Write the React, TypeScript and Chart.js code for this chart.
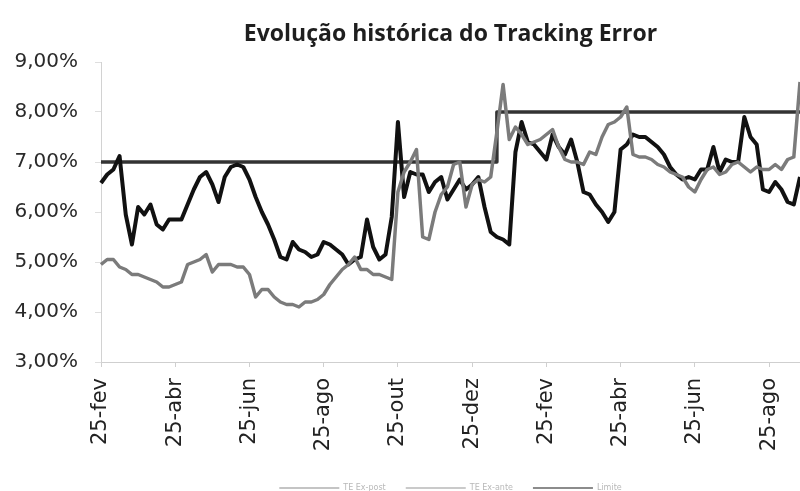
import { useEffect, useRef } from "react";
import { Chart, registerables } from "chart.js";

Chart.register(...registerables);

const TICK_LABELS = ["25-fev", "25-abr", "25-jun", "25-ago", "25-out", "25-dez", "25-fev", "25-abr", "25-jun", "25-ago"];
const POINTS_PER_TICK = 12;
const SERIES_NAMES = ["TE Ex-post", "TE Ex-ante", "Limite"];

const TE_GRAY = [
  4.95, 5.05, 5.05, 4.9, 4.85, 4.75, 4.75, 4.7, 4.65, 4.6,
  4.5, 4.5, 4.55, 4.6, 4.95, 5.0, 5.05, 5.15, 4.8, 4.95,
  4.95, 4.95, 4.9, 4.9, 4.75, 4.3, 4.45, 4.45, 4.3, 4.2,
  4.15, 4.15, 4.1, 4.2, 4.2, 4.25, 4.35, 4.55, 4.7, 4.85,
  4.95, 5.1, 4.85, 4.85, 4.75, 4.75, 4.7, 4.65, 6.4, 6.8,
  7.0, 7.25, 5.5, 5.45, 6.0, 6.35, 6.5, 6.95, 7.0, 6.1,
  6.55, 6.65, 6.6, 6.7, 7.6, 8.55, 7.45, 7.7, 7.55, 7.35,
  7.4, 7.45, 7.55, 7.65, 7.3, 7.05, 7.0, 7.0, 6.95, 7.2,
  7.15, 7.5, 7.75, 7.8, 7.9, 8.1, 7.15, 7.1, 7.1, 7.05,
  6.95, 6.9, 6.8, 6.75, 6.7, 6.5, 6.4, 6.65, 6.85, 6.9,
  6.75, 6.8, 6.95, 7.0, 6.9, 6.8, 6.9, 6.85, 6.85, 6.95,
  6.85, 7.05, 7.1, 8.6,
];

const TE_BLACK = [
  6.58, 6.75, 6.85, 7.12, 5.95, 5.35, 6.1, 5.95, 6.15, 5.75,
  5.65, 5.85, 5.85, 5.85, 6.15, 6.45, 6.7, 6.8, 6.55, 6.2,
  6.7, 6.9, 6.95, 6.9, 6.65, 6.3, 6.0, 5.75, 5.45, 5.1,
  5.05, 5.4, 5.25, 5.2, 5.1, 5.15, 5.4, 5.35, 5.25, 5.15,
  4.95, 5.05, 5.1, 5.85, 5.3, 5.05, 5.15, 5.9, 7.8, 6.3,
  6.8, 6.75, 6.75, 6.4, 6.6, 6.7, 6.25, 6.45, 6.65, 6.45,
  6.55, 6.7, 6.1, 5.6, 5.5, 5.45, 5.35, 7.2, 7.8, 7.4,
  7.35, 7.2, 7.05, 7.55, 7.3, 7.15, 7.45, 7.0, 6.4, 6.35,
  6.15, 6.0, 5.8, 6.0, 7.25, 7.35, 7.55, 7.5, 7.5, 7.4,
  7.3, 7.15, 6.9, 6.75, 6.65, 6.7, 6.65, 6.85, 6.85, 7.3,
  6.8, 7.05, 7.0, 7.0, 7.9, 7.5, 7.35, 6.45, 6.4, 6.6,
  6.45, 6.2, 6.15, 6.7,
];

const TE_LIMIT = [
  7, 7, 7, 7, 7, 7, 7, 7, 7, 7,
  7, 7, 7, 7, 7, 7, 7, 7, 7, 7,
  7, 7, 7, 7, 7, 7, 7, 7, 7, 7,
  7, 7, 7, 7, 7, 7, 7, 7, 7, 7,
  7, 7, 7, 7, 7, 7, 7, 7, 7, 7,
  7, 7, 7, 7, 7, 7, 7, 7, 7, 7,
  7, 7, 7, 7, 8, 8, 8, 8, 8, 8,
  8, 8, 8, 8, 8, 8, 8, 8, 8, 8,
  8, 8, 8, 8, 8, 8, 8, 8, 8, 8,
  8, 8, 8, 8, 8, 8, 8, 8, 8, 8,
  8, 8, 8, 8, 8, 8, 8, 8, 8, 8,
  8, 8, 8, 8,
];

const Y_MIN = 3;
const Y_MAX = 9;

const CATEGORIES = TE_BLACK.map((_, i) =>
  i % POINTS_PER_TICK === 0 && TICK_LABELS[i / POINTS_PER_TICK] ? TICK_LABELS[i / POINTS_PER_TICK] : ""
);

const LEGEND_LINE_COLORS = ["#c4c4c4", "#cacaca", "#8c8c8c"];

export default function App() {
  const ref = useRef<HTMLCanvasElement | null>(null);

  useEffect(() => {
    if (!ref.current) return;
    const chart = new Chart(ref.current, {
      type: "line",
      data: {
        labels: CATEGORIES,
        datasets: [
          { label: SERIES_NAMES[0], data: TE_GRAY, borderColor: "#7b7b7b", backgroundColor: "#7b7b7b", borderWidth: 3.5, order: 0 },
          { label: SERIES_NAMES[1], data: TE_BLACK, borderColor: "#111111", backgroundColor: "#111111", borderWidth: 4, order: 1 },
          { label: SERIES_NAMES[2], data: TE_LIMIT, borderColor: "#333333", backgroundColor: "#333333", borderWidth: 3.5, stepped: "before", order: 2 },
        ],
      },
      options: {
        animation: false,
        responsive: false,
        layout: { padding: 0 },
        elements: {
          point: { radius: 0, hoverRadius: 0 },
          line: { tension: 0, borderJoinStyle: "round", borderCapStyle: "butt" },
        },
        plugins: {
          tooltip: { enabled: false },
          title: {
            display: true,
            text: "Evolução histórica do Tracking Error",
            fullSize: false,
            color: "#1e1e1e",
            font: { family: "Open Sans", size: 23, weight: "bold" },
            padding: { top: 21, bottom: 13.4 },
          },
          legend: {
            position: "bottom",
            fullSize: false,
            labels: {
              usePointStyle: true,
              pointStyle: "line",
              pointStyleWidth: 60,
              boxHeight: 4,
              padding: 20,
              color: "#b8b8b8",
              font: { family: "DejaVu Sans", size: 8 },
              generateLabels: (c: any) => {
                const base = (Chart.defaults.plugins.legend.labels as any).generateLabels(c);
                return base.map((it: any, k: number) => ({
                  ...it,
                  strokeStyle: LEGEND_LINE_COLORS[k],
                  fillStyle: LEGEND_LINE_COLORS[k],
                  lineWidth: 2,
                  fontColor: "#b8b8b8",
                }));
              },
            },
          },
        },
        scales: {
          x: {
            type: "category",
            offset: false,
            grid: { drawOnChartArea: false, drawTicks: true, tickLength: 5, color: "#cfcfcf" },
            border: { display: true, color: "#cfcfcf" },
            ticks: {
              autoSkip: false,
              maxRotation: 90,
              minRotation: 90,
              padding: 11,
              color: "#222222",
              font: { family: "DejaVu Sans", size: 21 },
              callback: (_v: any, i: number) => (CATEGORIES[i] ? CATEGORIES[i] : null),
            },
            afterFit: (s: any) => {
              s.height = 102;
              s.paddingLeft = 0;
              s.paddingRight = 0;
            },
          },
          y: {
            min: Y_MIN,
            max: Y_MAX,
            grid: { drawOnChartArea: false, drawTicks: true, tickLength: 6, color: "#dedede" },
            border: { display: true, color: "#d2d2d2" },
            ticks: {
              stepSize: 1,
              padding: 17,
              color: "#2a2a2a",
              font: { family: "DejaVu Sans", size: 20 },
              callback: (v: any) => Number(v).toFixed(2).replace(".", ",") + "%",
            },
            afterFit: (s: any) => {
              s.width = 101;
            },
          },
        },
      },
    } as any);
    return () => chart.destroy();
  }, []);

  return (
    <div style={{ position: "absolute", left: 0, top: 0, width: 800, height: 491, overflow: "hidden", background: "#ffffff" }}>
      <canvas ref={ref} width={800} height={502} style={{ display: "block", width: 800, height: 502 }} />
    </div>
  );
}
